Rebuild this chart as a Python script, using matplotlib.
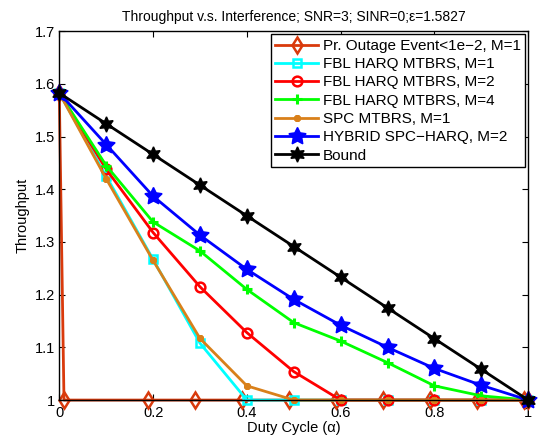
import numpy as np
import matplotlib
matplotlib.use("Agg")
import matplotlib.pyplot as plt

plt.rcParams['font.family'] = ['Liberation Sans', 'DejaVu Sans']

# data
duty = [0.0, 0.1, 0.2, 0.3, 0.4, 0.5, 0.6, 0.7, 0.8, 0.9, 1.0]

outage_x = [0.0, 0.01, 0.19, 0.29, 0.39, 0.49, 0.59, 0.69, 0.79, 0.89, 0.99, 1.0]
outage_y = [1.5827, 1.0, 1.0, 1.0, 1.0, 1.0, 1.0, 1.0, 1.0, 1.0, 1.0, 1.0]

harq_m1 = [1.5827, 1.425, 1.267, 1.108, 1.0, 1.0, 1.0, 1.0, 1.0, 1.0, 1.0]
harq_m2 = [1.5827, 1.438, 1.318, 1.215, 1.128, 1.054, 1.0, 1.0, 1.0, 1.0, 1.0]
harq_m4 = [1.5827, 1.445, 1.338, 1.283, 1.210, 1.147, 1.112, 1.071, 1.027, 1.008, 1.0]
spc_m1 = [1.5827, 1.420, 1.265, 1.117, 1.027, 1.0, 1.0, 1.0, 1.0, 1.0, 1.0]
hybrid_m2 = [1.5827, 1.485, 1.387, 1.313, 1.248, 1.191, 1.142, 1.100, 1.060, 1.028, 1.0]
bound = [1.5827, 1.5244, 1.4662, 1.4079, 1.3496, 1.2914, 1.2331, 1.1748, 1.1165, 1.0583, 1.0]

labels = ['Pr. Outage Event<1e\u22122, M=1', 'FBL HARQ MTBRS, M=1',
          'FBL HARQ MTBRS, M=2', 'FBL HARQ MTBRS, M=4', 'SPC MTBRS, M=1',
          'HYBRID SPC\u2212HARQ, M=2', 'Bound']

c_out = '#D93A0C'
c_spc = '#D9801A'

fig = plt.figure(figsize=(5.44, 4.46), dpi=100)
ax = fig.add_axes([0.109, 0.103, 0.862, 0.827])

lw = 2
kw = dict(lw=lw, clip_on=False)
ax.plot(outage_x, outage_y, color=c_out, marker='d', ms=8, mfc='none', mew=1.8, label=labels[0], **kw)
ax.plot(duty, harq_m1, color='#00FFFF', marker='s', ms=6, mfc='none', mew=1.8, label=labels[1], **kw)
ax.plot(duty, harq_m2, color='#FF0000', marker='o', ms=7, mfc='none', mew=1.8, label=labels[2], **kw)
ax.plot(duty, harq_m4, color='#00FF00', marker='+', ms=7, mew=2.2, label=labels[3], **kw)
ax.plot(duty, spc_m1, color=c_spc, marker=(8, 2, 0), ms=5, mew=1.4, label=labels[4], **kw)
ax.plot(duty, hybrid_m2, color='#0000FF', marker=(5, 1, 0), ms=13, label=labels[5], **kw)
ax.plot(duty, bound, color='black', marker=(6, 1, 0), ms=11, label=labels[6], **kw)

ax.set_xlim(0, 1)
ax.set_ylim(1, 1.7)
ax.set_xticks([0, 0.2, 0.4, 0.6, 0.8, 1])
ax.set_xticklabels(['0', '0.2', '0.4', '0.6', '0.8', '1'])
ax.set_yticks([1, 1.1, 1.2, 1.3, 1.4, 1.5, 1.6, 1.7])
ax.set_yticklabels(['1', '1.1', '1.2', '1.3', '1.4', '1.5', '1.6', '1.7'])
ax.tick_params(direction='in', top=True, right=True, labelsize=10.5, length=4)
ax.tick_params(axis='x', pad=4)
ax.tick_params(axis='y', pad=3)
for s in ax.spines.values():
    s.set_linewidth(1.0)

ax.set_xlabel('Duty Cycle (\u03b1)', fontsize=10.5, labelpad=1)
ax.set_ylabel('Throughput', fontsize=10.5, labelpad=4)
ax.set_title('Throughput v.s. Interference; SNR=3; SINR=0;\u03b5=1.5827', fontsize=10, pad=7)

leg = ax.legend(loc='upper right', fontsize=11, handlelength=2.8, borderaxespad=0.2,
                fancybox=False, framealpha=1, edgecolor='black', labelspacing=0.28,
                handletextpad=0.3, borderpad=0.3)
leg.get_frame().set_linewidth(1.0)

fig.savefig('out.png', dpi=100)
